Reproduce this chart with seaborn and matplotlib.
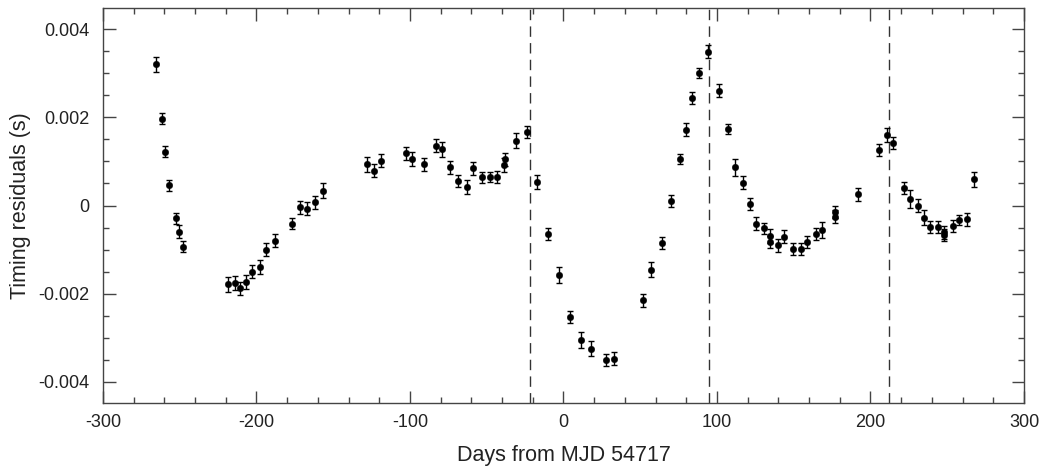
import numpy as np
import pandas as pd
import matplotlib
matplotlib.use("Agg")
import matplotlib.pyplot as plt
import seaborn as sns
from matplotlib.ticker import MultipleLocator, FuncFormatter

days = [-265.6, -261.7, -259.6, -256.8, -252.6, -250.7, -247.7,
        -218.7, -213.7, -210.7, -206.8, -202.7, -197.6, -193.7, -187.6,
        -176.7, -171.7, -166.8, -161.7, -156.7,
        -127.8, -123.7, -118.7, -102.8, -98.7, -90.9, -82.8, -78.9, -73.7,
        -68.9, -63.1, -58.9, -53.0, -48.1, -43.0, -38.7, -37.8, -30.9, -23.9,
        -17.0, -10.0, -2.8, 4.1, 11.1, 18.1, 28.0, 33.1,
        52.0, 57.0, 64.0, 70.0, 75.9, 80.0, 84.0, 88.1, 93.9,
        101.5, 107.0, 111.7, 116.7, 121.7, 125.7, 130.6, 134.6, 134.8, 139.8,
        143.7, 149.8, 154.8, 158.7, 164.8, 168.7, 176.6, 176.6, 191.6,
        205.7, 210.7, 214.8, 221.6, 225.7, 230.7, 234.6, 238.7, 243.7,
        247.6, 247.6, 253.5, 257.6, 262.6, 267.6]

residuals = [3.20, 1.97, 1.22, 0.46, -0.29, -0.59, -0.93,
             -1.79, -1.75, -1.88, -1.73, -1.50, -1.39, -1.00, -0.80,
             -0.41, -0.04, -0.07, 0.07, 0.33,
             0.93, 0.79, 1.02, 1.18, 1.05, 0.93, 1.36, 1.27, 0.87,
             0.55, 0.42, 0.84, 0.64, 0.65, 0.65, 0.92, 1.05, 1.47, 1.67,
             0.53, -0.65, -1.58, -2.53, -3.05, -3.25, -3.50, -3.47,
             -2.15, -1.46, -0.85, 0.10, 1.05, 1.72, 2.44, 3.00, 3.49,
             2.60, 1.73, 0.87, 0.52, 0.03, -0.41, -0.52, -0.69, -0.83, -0.90,
             -0.71, -0.98, -0.98, -0.83, -0.65, -0.56, -0.14, -0.25, 0.25,
             1.26, 1.60, 1.41, 0.39, 0.15, 0.00, -0.28, -0.48, -0.48,
             -0.61, -0.67, -0.46, -0.33, -0.31, 0.60]

errors = [0.17, 0.12, 0.12, 0.12, 0.12, 0.14, 0.12,
          0.16, 0.16, 0.14, 0.16, 0.15, 0.16, 0.15, 0.15,
          0.13, 0.15, 0.14, 0.14, 0.17,
          0.16, 0.14, 0.15, 0.15, 0.16, 0.15, 0.14, 0.17, 0.15,
          0.14, 0.15, 0.15, 0.12, 0.12, 0.14, 0.15, 0.15, 0.17, 0.14,
          0.16, 0.14, 0.18, 0.13, 0.18, 0.17, 0.14, 0.14,
          0.15, 0.17, 0.13, 0.13, 0.12, 0.15, 0.14, 0.12, 0.15,
          0.15, 0.12, 0.19, 0.14, 0.14, 0.14, 0.13, 0.15, 0.13, 0.15,
          0.15, 0.14, 0.14, 0.14, 0.14, 0.18, 0.14, 0.14, 0.15,
          0.13, 0.15, 0.14, 0.14, 0.20, 0.14, 0.17, 0.14, 0.14,
          0.14, 0.14, 0.14, 0.12, 0.15, 0.17]

boundaries = [-21.5, 94.5, 212.0]

df = pd.DataFrame({"days": days,
                   "res": np.array(residuals) * 1e-3,
                   "err": np.array(errors) * 1e-3})

sns.set_style("ticks")
plt.rcParams["font.family"] = ["Liberation Sans", "DejaVu Sans"]

fig = plt.figure(figsize=(10.4, 4.66), dpi=100)
ax = fig.add_axes([0.099, 0.135, 0.8856, 0.848])

ax.errorbar(df["days"], df["res"], yerr=df["err"], fmt="none",
            ecolor="black", elinewidth=1.0, capsize=2.5, capthick=1.0, zorder=2)
sns.scatterplot(data=df, x="days", y="res", ax=ax, color="black", s=22,
                edgecolor="black", linewidth=0.3, zorder=3, legend=False)

for b in boundaries:
    ax.axvline(b, color="#333333", linestyle=(0, (7.5, 4.5)), linewidth=1.0, zorder=1)

ax.set_xlim(-300, 300)
ax.set_ylim(-0.00448, 0.00448)
ax.xaxis.set_major_locator(MultipleLocator(100))
ax.xaxis.set_minor_locator(MultipleLocator(20))
ax.yaxis.set_major_locator(MultipleLocator(0.002))
ax.yaxis.set_minor_locator(MultipleLocator(0.0005))
ax.yaxis.set_major_formatter(FuncFormatter(lambda v, p: "0" if abs(v) < 1e-12 else f"{v:.3f}"))
ax.xaxis.set_major_formatter(FuncFormatter(lambda v, p: f"{int(round(v))}"))

ax.tick_params(which="both", direction="in", top=True, right=True,
               color="#444444", labelsize=13, labelcolor="#222222")
ax.tick_params(which="major", length=9, width=1.0)
ax.tick_params(which="minor", length=4.5, width=1.0)
ax.tick_params(axis="y", which="major", pad=10)
ax.tick_params(axis="x", which="major", pad=8)
for s in ax.spines.values():
    s.set_color("#444444")
    s.set_linewidth(1.0)

ax.set_xlabel("Days from MJD 54717", fontsize=15.5, color="#222222", labelpad=10)
ax.set_ylabel("Timing residuals (s)", fontsize=15.5, color="#222222", labelpad=5)

fig.savefig("out.png", dpi=100)
